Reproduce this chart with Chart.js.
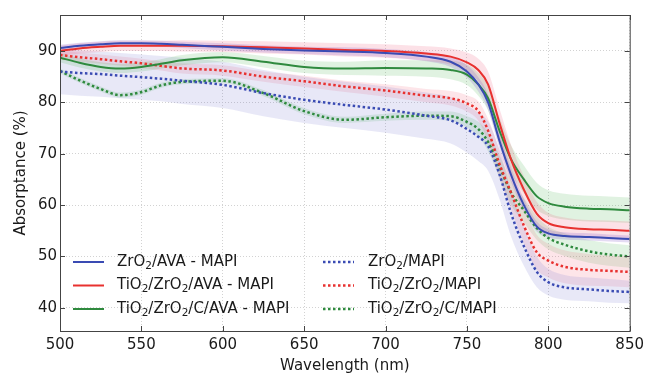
<!DOCTYPE html>
<html>
<head>
<meta charset="utf-8">
<script src="https://cdn.jsdelivr.net/npm/chart.js@4.4.1/dist/chart.umd.min.js"></script>
<style>
  html, body { margin: 0; padding: 0; background: #fff; }
</style>
</head>
<body>
<canvas id="chart" width="649" height="375"></canvas>
<script>
// wavelength axis (nm)
const wavelengths = [500, 512, 525, 537, 550, 562, 575, 600, 625, 650, 675, 700, 725, 740, 750, 757, 763, 770, 777, 785, 793, 800, 810, 825, 837, 850];

// absorptance (%)
const zrAva     = [90.6, 91.0, 91.3, 91.5, 91.5, 91.4, 91.2, 90.8, 90.4, 90.1, 89.9, 89.6, 88.9, 87.9, 86.0, 83.5, 80.0, 72.5, 66.0, 60.0, 55.8, 54.5, 54.0, 53.8, 53.6, 53.4];
const tiZrAva   = [90.0, 90.5, 90.8, 91.0, 91.0, 91.0, 91.0, 90.9, 90.7, 90.5, 90.2, 90.0, 89.5, 88.9, 87.8, 86.3, 83.5, 76.0, 69.0, 63.0, 58.3, 56.5, 55.7, 55.3, 55.2, 55.0];
const tiZrCAva  = [88.7, 87.7, 86.9, 86.6, 86.9, 87.5, 88.2, 88.8, 87.9, 86.9, 86.6, 86.7, 86.6, 86.3, 85.4, 83.5, 80.8, 74.5, 69.0, 65.0, 61.7, 60.4, 59.7, 59.3, 59.2, 59.0];
const zr        = [86.0, 85.7, 85.5, 85.2, 84.9, 84.6, 84.2, 83.4, 81.8, 80.5, 79.5, 78.6, 77.4, 76.5, 74.8, 73.3, 71.5, 66.0, 58.5, 52.0, 47.0, 45.0, 44.0, 43.6, 43.3, 43.1];
const tiZr      = [89.2, 88.8, 88.4, 88.0, 87.6, 87.1, 86.6, 86.2, 85.0, 84.1, 83.1, 82.3, 81.3, 80.8, 79.8, 78.3, 74.5, 68.0, 62.5, 56.0, 50.8, 49.2, 48.0, 47.4, 47.2, 47.0];
const tiZrC     = [86.1, 84.3, 82.6, 81.4, 82.0, 83.3, 84.0, 84.2, 81.8, 78.3, 76.6, 77.1, 77.4, 77.3, 76.2, 74.8, 72.3, 67.5, 62.5, 59.0, 55.5, 53.6, 52.3, 51.0, 50.4, 50.0];

// spread (half width of shaded band)
const zrAvaErr    = [0.6, 0.6, 0.6, 0.6, 0.6, 0.6, 0.6, 0.7, 0.7, 0.7, 0.8, 0.8, 0.9, 1.0, 1.2, 1.4, 1.5, 1.5, 1.4, 1.2, 1.0, 0.8, 0.7, 0.7, 0.7, 0.7];
const tiZrAvaErr  = [1.0, 1.0, 1.0, 1.0, 1.0, 1.0, 1.1, 1.1, 1.2, 1.2, 1.3, 1.3, 1.4, 1.6, 1.9, 2.2, 2.5, 2.8, 2.8, 2.6, 2.3, 2.0, 1.9, 1.8, 1.8, 1.8];
const tiZrCAvaErr = [0.9, 0.9, 0.9, 0.9, 0.9, 0.9, 1.0, 1.0, 1.1, 1.2, 1.3, 1.5, 1.6, 1.8, 2.0, 2.2, 2.4, 2.6, 2.7, 2.7, 2.6, 2.5, 2.5, 2.5, 2.5, 2.5];
const zrErr       = [4.4, 4.4, 4.4, 4.4, 4.4, 4.4, 4.5, 4.5, 4.5, 4.5, 4.5, 4.5, 4.5, 4.5, 4.6, 4.7, 4.8, 4.8, 4.5, 3.8, 3.0, 2.6, 2.4, 2.3, 2.3, 2.2];
const tiZrErr     = [0.9, 0.9, 0.9, 0.9, 0.9, 0.9, 1.0, 1.0, 1.0, 1.1, 1.1, 1.2, 1.3, 1.4, 1.6, 1.9, 2.3, 2.8, 3.2, 3.4, 3.4, 3.3, 3.2, 3.1, 3.0, 3.0];
const tiZrCErr    = [0.5, 0.5, 0.5, 0.5, 0.5, 0.5, 0.5, 0.5, 0.6, 0.6, 0.6, 0.7, 0.8, 0.9, 1.1, 1.4, 1.8, 2.2, 2.4, 2.4, 2.3, 2.2, 2.2, 2.2, 2.2, 2.2];

const labels = [
  "ZrO₂/AVA - MAPI",
  "TiO₂/ZrO₂/AVA - MAPI",
  "TiO₂/ZrO₂/C/AVA - MAPI",
  "ZrO₂/MAPI",
  "TiO₂/ZrO₂/MAPI",
  "TiO₂/ZrO₂/C/MAPI",
];

const xTicks = [500, 550, 600, 650, 700, 750, 800, 850];
const yTicks = [40, 50, 60, 70, 80, 90];

// styles
const BLUE = "#3a4bb3";
const RED = "#e8312f";
const GREEN = "#2f8a3e";
const series = [
  { data: zrAva,    err: zrAvaErr,    color: BLUE,  dotted: false, band: "rgba(130, 90, 200, 0.22)" },
  { data: tiZrAva,  err: tiZrAvaErr,  color: RED,   dotted: false, band: "rgba(240, 80, 110, 0.17)" },
  { data: tiZrCAva, err: tiZrCAvaErr, color: GREEN, dotted: false, band: "rgba(70, 180, 80, 0.17)" },
  { data: zr,       err: zrErr,       color: BLUE,  dotted: true,  band: "rgba(100, 100, 200, 0.15)" },
  { data: tiZr,     err: tiZrErr,     color: RED,   dotted: true,  band: "rgba(240, 80, 110, 0.15)" },
  { data: tiZrC,    err: tiZrCErr,    color: GREEN, dotted: true,  band: "rgba(70, 180, 80, 0.16)" },
];

const FONT = "'DejaVu Sans', sans-serif";
const DOT = [2.5, 2.5];

function pts(arr) {
  return wavelengths.map((w, i) => ({ x: w, y: arr[i] }));
}

const datasets = [];
// main lines first so they sit on top
series.forEach((s, i) => {
  datasets.push({
    label: labels[i],
    data: pts(s.data),
    borderColor: s.color,
    borderWidth: s.dotted ? 2.5 : 2,
    borderDash: s.dotted ? DOT : [],
    pointRadius: 0,
    cubicInterpolationMode: "monotone",
    fill: false,
  });
});
// shaded bands
series.forEach((s) => {
  datasets.push({
    label: "",
    data: pts(s.data.map((v, i) => v + s.err[i])),
    borderWidth: 0,
    borderColor: "rgba(0,0,0,0)",
    pointRadius: 0,
    cubicInterpolationMode: "monotone",
    fill: false,
  });
  datasets.push({
    label: "",
    data: pts(s.data.map((v, i) => v - s.err[i])),
    borderWidth: 0,
    borderColor: "rgba(0,0,0,0)",
    backgroundColor: s.band,
    pointRadius: 0,
    cubicInterpolationMode: "monotone",
    fill: "-1",
  });
});

// text with subscript 2
function drawSubText(ctx, text, x, y) {
  const parts = text.split("₂");
  let cx = x;
  parts.forEach((p, i) => {
    ctx.font = "15px " + FONT;
    ctx.fillText(p, cx, y);
    cx += ctx.measureText(p).width;
    if (i < parts.length - 1) {
      ctx.font = "10.5px " + FONT;
      ctx.fillText("2", cx, y + 4);
      cx += ctx.measureText("2").width;
    }
  });
}

const legendPlugin = {
  id: "legendBox",
  afterDatasetsDraw(chart) {
    const ctx = chart.ctx;
    const cols = [
      { sx: 73, tx: 117 },
      { sx: 323, tx: 368 },
    ];
    const rows = [262, 285.5, 309];
    ctx.save();
    ctx.textBaseline = "middle";
    ctx.fillStyle = "#1a1a1a";
    series.forEach((s, i) => {
      const c = cols[Math.floor(i / 3)];
      const y = rows[i % 3];
      ctx.strokeStyle = s.color;
      ctx.lineWidth = s.dotted ? 2.5 : 2;
      ctx.setLineDash(s.dotted ? DOT : []);
      ctx.beginPath();
      ctx.moveTo(c.sx, y);
      ctx.lineTo(c.sx + 31, y);
      ctx.stroke();
      ctx.setLineDash([]);
      drawSubText(ctx, labels[i], c.tx, y);
    });
    ctx.restore();
  },
};

// box around plot and inward tick marks
const framePlugin = {
  id: "frame",
  afterDraw(chart) {
    const { ctx, chartArea: a, scales } = chart;
    ctx.save();
    ctx.strokeStyle = "#444";
    ctx.lineWidth = 1;
    ctx.strokeRect(a.left + 0.5, a.top + 0.5, a.right - a.left, a.bottom - a.top);
    ctx.beginPath();
    xTicks.forEach((v) => {
      const px = Math.round(scales.x.getPixelForValue(v)) + 0.5;
      ctx.moveTo(px, a.bottom);
      ctx.lineTo(px, a.bottom - 5);
      ctx.moveTo(px, a.top);
      ctx.lineTo(px, a.top + 5);
    });
    yTicks.forEach((v) => {
      const py = Math.round(scales.y.getPixelForValue(v)) + 0.5;
      ctx.moveTo(a.left, py);
      ctx.lineTo(a.left + 5, py);
      ctx.moveTo(a.right, py);
      ctx.lineTo(a.right - 5, py);
    });
    ctx.stroke();
    ctx.restore();
  },
};

new Chart(document.getElementById("chart"), {
  type: "line",
  data: { datasets },
  options: {
    responsive: false,
    animation: false,
    devicePixelRatio: 1,
    layout: { padding: { top: 15, right: 17, left: 0, bottom: 0 } },
    plugins: {
      legend: { display: false },
      tooltip: { enabled: false },
    },
    scales: {
      x: {
        type: "linear",
        min: 500,
        max: 850,
        afterBuildTicks: (scale) => { scale.ticks = xTicks.map((v) => ({ value: v })); },
        afterFit: (scale) => { scale.height = 44; },
        grid: { color: "#d2d2d2", lineWidth: 1, drawTicks: false },
        border: { display: false, dash: [1, 2] },
        ticks: { padding: 5, color: "#1a1a1a", font: { family: FONT, size: 15 }, maxRotation: 0 },
        title: {
          display: true,
          text: "Wavelength (nm)",
          color: "#1a1a1a",
          font: { family: FONT, size: 15 },
          padding: { top: 0, bottom: 0 },
        },
      },
      y: {
        min: 35.5,
        max: 97,
        afterBuildTicks: (scale) => { scale.ticks = yTicks.map((v) => ({ value: v })); },
        afterFit: (scale) => { scale.width = 60; },
        grid: { color: "#d2d2d2", lineWidth: 1, drawTicks: false },
        border: { display: false, dash: [1, 2] },
        ticks: { padding: 3, color: "#1a1a1a", font: { family: FONT, size: 15 } },
        title: {
          display: true,
          text: "Absorptance (%)",
          color: "#1a1a1a",
          font: { family: FONT, size: 15 },
          padding: { top: 12, bottom: 0 },
        },
      },
    },
  },
  plugins: [legendPlugin, framePlugin],
});
</script>
</body>
</html>
